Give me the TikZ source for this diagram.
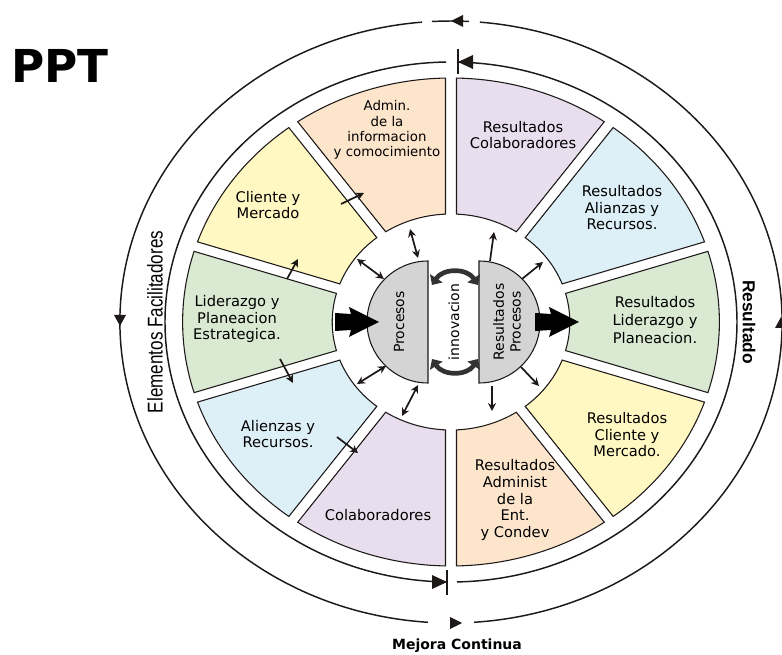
\documentclass[tikz,border=0pt]{standalone}
\usepackage{graphicx}
\usepackage{fontspec}
\setmainfont{DejaVu Sans}
\newfontfamily\libsans{Liberation Sans}
\usetikzlibrary{arrows.meta}
\definecolor{peach}{RGB}{253,229,204}
\definecolor{lyellow}{RGB}{255,248,194}
\definecolor{lgreen}{RGB}{217,233,210}
\definecolor{lblue}{RGB}{221,239,247}
\definecolor{lilac}{RGB}{233,222,238}
\definecolor{hubgray}{RGB}{212,212,212}
\definecolor{ink}{RGB}{30,25,25}
\definecolor{curvgray}{RGB}{50,50,50}
\tikzset{
  segline/.style={draw=ink, line width=0.8pt},
  ringline/.style={draw=ink, line width=1.1pt},
  segtext/.style={align=center, font=\fontsize{11}{12.4}\selectfont, text=black, inner sep=0pt},
  dblarr/.style={draw=ink, line width=1.3pt, {Stealth[length=6pt,width=6pt]}-{Stealth[length=6pt,width=6pt]}},
  sglarr/.style={draw=ink, line width=1.3pt, -{Stealth[length=6pt,width=6pt]}},
  hubshape/.style={fill=hubgray, draw=ink, line width=0.8pt},
  curvarr/.style={draw=curvgray, line width=3.5pt, {Triangle[length=6pt,width=11pt]}-{Triangle[length=6pt,width=11pt]}},
  headtri/.style={fill=ink},
}
\newcommand{\mysector}[3]{%
  \pgfmathsetmacro\sao{#2+1.17}\pgfmathsetmacro\sbo{#3-1.17}%
  \pgfmathsetmacro\sai{#2+2.65}\pgfmathsetmacro\sbi{#3-2.65}%
  \filldraw[segline, fill=#1] (\sao:244) arc[start angle=\sao, end angle=\sbo, radius=244]
     -- (\sbi:108) arc[start angle=\sbi, end angle=\sai, radius=108] -- cycle;}
\begin{document}
\begin{tikzpicture}[x=0.75pt,y=-0.75pt]
\useasboundingbox (0,0) rectangle (782,655);
\begin{scope}[shift={(451,322)}, xscale=1.1, yscale=-1]
  % left half
  \mysector{peach}{90}{126}
  \mysector{lyellow}{126}{162}
  \mysector{lgreen}{162}{198}
  \mysector{lblue}{198}{234}
  \mysector{lilac}{234}{270}
  % right half
  \mysector{lilac}{54}{90}
  \mysector{lblue}{18}{54}
  \mysector{lgreen}{-18}{18}
  \mysector{lyellow}{-54}{-18}
  \mysector{peach}{-90}{-54}
  % inner ring
  \draw[ringline] (91:260) arc[start angle=91, end angle=269, radius=260];
  \draw[ringline] (-88.8:260) arc[start angle=-88.8, end angle=88.8, radius=260];
  % outer ring
  \draw[ringline] (95:301) arc[start angle=95, end angle=266, radius=301];
  \draw[ringline] (-86:301) arc[start angle=-86, end angle=85, radius=301];
  \draw[ringline] (86.9:301) arc[start angle=86.9, end angle=93.3, radius=301];
\end{scope}
% ring arrowheads and ticks
\fill[headtri] (451,21) -- (463,15) -- (463,27) -- cycle;
\fill[headtri] (462,623) -- (450,617) -- (450,629) -- cycle;
\fill[headtri] (120,326) -- (114,315) -- (126,315) -- cycle;
\fill[headtri] (781,317) -- (775,328) -- (787,328) -- cycle;
\fill[headtri] (458,62) -- (473,55) -- (473,69) -- cycle;
\draw[ink, line width=1pt] (458,49) -- (458,74);
\fill[headtri] (447,582) -- (432,575) -- (432,589) -- cycle;
\draw[ink, line width=1pt] (447,570) -- (447,595);
% hubs
\filldraw[hubshape] (428,261) arc[start angle=270, end angle=90, radius=61] -- cycle;
\filldraw[hubshape] (479,261) arc[start angle=-90, end angle=90, radius=61] -- cycle;
\node[rotate=90, font=\fontsize{10.5}{12}\selectfont] (proc) at (399,322) {Procesos};
\node[rotate=90, align=center, font=\fontsize{10.5}{12.5}\selectfont] (rproc) at (507,322) {Resultados\\Procesos};
\node[rotate=90, font=\fontsize{10.5}{12}\selectfont] (innov) at (454,322) {innovacion};
% curved innovation arrows
\draw[curvarr] (432,285) .. controls (443,268) and (467,268) .. (478,285);
\draw[curvarr] (432,359) .. controls (443,376) and (467,376) .. (478,359);
% big arrows
\fill[black] (335,313) -- (351,314) -- (349,307) -- (379,322) -- (349,337) -- (351,330) -- (335,331) -- cycle;
\fill[black] (535,313) -- (551,314) -- (549,307) -- (579,322) -- (549,337) -- (551,330) -- (535,331) -- cycle;
% small arrows: hub <-> left segments
\draw[dblarr] (410,229) -- (418,258);
\draw[dblarr] (357,259) -- (384,279);
\draw[dblarr] (357,384) -- (386,366);
\draw[dblarr] (402,416) -- (418,385);
% segment to segment
\draw[sglarr] (287,279) -- (298,259);
\draw[sglarr] (341,204) -- (364,193);
\draw[sglarr] (280,359) -- (293,383);
\draw[sglarr] (337,437) -- (358,453);
% result hub outward
\draw[sglarr] (490,261) -- (494,232);
\draw[sglarr] (522,279) -- (543,262);
\draw[sglarr] (521,367) -- (539,386);
\draw[sglarr] (492,386) -- (492,411);
% segment texts
\node[segtext, font=\fontsize{10}{11.5}\selectfont] (tadmin) at (387,130) {Admin.\\de la\\informacion\\y comocimiento};
\node[segtext] (tcli) at (268,205) {Cliente y\\Mercado};
\node[segtext] (tlid) at (237,319) {Liderazgo y\\Planeacion\\Estrategica.};
\node[segtext] (tali) at (278,434) {Alienzas y\\Recursos.};
\node[segtext] (tcol) at (378,515) {Colaboradores};
\node[segtext] (trcol) at (523,135) {Resultados\\Colaboradores};
\node[segtext] (trali) at (622,208) {Resultados\\Alianzas y\\Recursos.};
\node[segtext, font=\fontsize{11}{13.3}\selectfont] (trlid) at (655,320) {Resultados\\Liderazgo y\\Planeacion.};
\node[segtext] (trcli) at (627,435) {Resultados\\Cliente y\\Mercado.};
\node[segtext] (tradm) at (515,500) {Resultados\\Administ\\de la\\Ent.\\y Condev};
% ring labels
\node[rotate=90, inner sep=0pt, font=\libsans\fontsize{16}{18}\selectfont] (elem) at (155,322) {\scalebox{0.8}[1]{Elementos Facilitadores}};
\node[rotate=-90, inner sep=0pt, font=\libsans\bfseries\fontsize{13}{15}\selectfont] (resu) at (749,322) {Resultado};
\node[inner sep=0pt, font=\bfseries\fontsize{10.5}{12}\selectfont] (mejora) at (457,646) {Mejora Continua};
\node[inner sep=0pt, font=\bfseries\fontsize{34}{36}\selectfont] (ppt) at (60,66) {PPT};
\end{tikzpicture}
\end{document}
